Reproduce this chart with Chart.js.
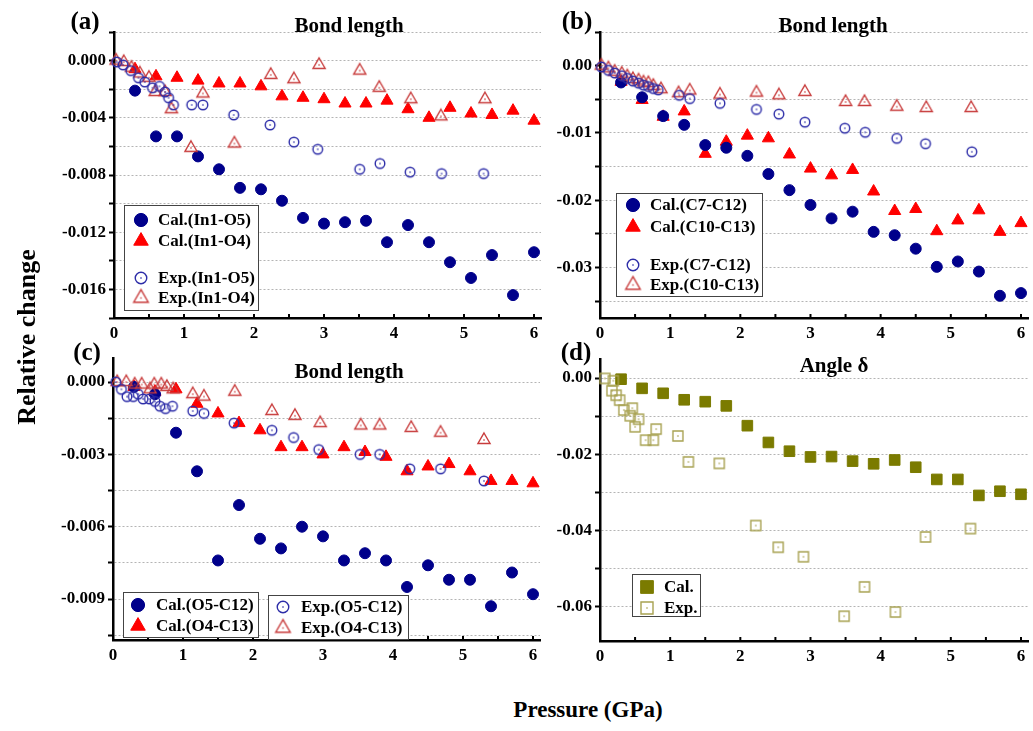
<!DOCTYPE html>
<html>
<head>
<meta charset="utf-8">
<script src="https://cdn.jsdelivr.net/npm/chart.js@4.4.1/dist/chart.umd.min.js"></script>
<style>
  body { margin: 0; background: #fff; }
  #wrap { position: relative; width: 1033px; height: 731px; overflow: hidden; font-family: "Liberation Serif", serif; font-weight: bold; color: #000; }
  canvas { position: absolute; }
  .lbl { position: absolute; white-space: nowrap; transform: translate(-50%, -50%); }
</style>
</head>
<body>
<div id="wrap">
  <canvas id="ca"></canvas>
  <canvas id="cb"></canvas>
  <canvas id="cc"></canvas>
  <canvas id="cd"></canvas>
  <div class="lbl" style="left:85px;top:21px;font-size:25px">(a)</div>
  <div class="lbl" style="left:349px;top:25px;font-size:21px">Bond length</div>
  <div class="lbl" style="left:577px;top:21px;font-size:25px">(b)</div>
  <div class="lbl" style="left:833px;top:25px;font-size:21px">Bond length</div>
  <div class="lbl" style="left:87px;top:352px;font-size:25px">(c)</div>
  <div class="lbl" style="left:349px;top:371px;font-size:21px">Bond length</div>
  <div class="lbl" style="left:576px;top:352px;font-size:25px">(d)</div>
  <div class="lbl" style="left:834px;top:365px;font-size:21px">Angle δ</div>
  <div class="lbl" style="left:27px;top:337px;font-size:26px;transform:translate(-50%,-50%) rotate(-90deg)">Relative change</div>
  <div class="lbl" style="left:588px;top:710px;font-size:23px">Pressure (GPa)</div>
</div>
<script>
// pressure values (GPa)
const pCal = [0.3, 0.6, 0.9, 1.2, 1.5, 1.8, 2.1, 2.4, 2.7, 3.0, 3.3, 3.6, 3.9, 4.2, 4.5, 4.8, 5.1, 5.4, 5.7, 6.0];
const xTicks = [0, 0.5, 1, 1.5, 2, 2.5, 3, 3.5, 4, 4.5, 5, 5.5, 6];
const xLabels = ['0', '', '1', '', '2', '', '3', '', '4', '', '5', '', '6'];

// (a) In1-O5 / In1-O4
const calIn1O5 = [-0.0021, -0.0053, -0.0053, -0.0067, -0.0076, -0.0089, -0.0090, -0.0098, -0.0110, -0.0114, -0.0113, -0.0112, -0.0127, -0.0115, -0.0127, -0.0141, -0.0152, -0.0136, -0.0164, -0.0134];
const calIn1O4 = [-0.0006, -0.0011, -0.0012, -0.0014, -0.0016, -0.0016, -0.0018, -0.0025, -0.0026, -0.0027, -0.0030, -0.0030, -0.0028, -0.0034, -0.0040, -0.0033, -0.0037, -0.0038, -0.0035, -0.0042];
const pExpIn1O5 = [0.04, 0.13, 0.24, 0.35, 0.44, 0.55, 0.65, 0.73, 0.78, 0.85, 1.11, 1.27, 1.71, 2.23, 2.57, 2.91, 3.51, 3.8, 4.23, 4.68, 5.28];
const expIn1O5 = [-0.0001, -0.0003, -0.0007, -0.0012, -0.0015, -0.0019, -0.0018, -0.0022, -0.0026, -0.0031, -0.0031, -0.0031, -0.0038, -0.0045, -0.0057, -0.0062, -0.0076, -0.0072, -0.0078, -0.0079, -0.0079];
const pExpIn1O4 = [0.03, 0.14, 0.25, 0.37, 0.5, 0.59, 0.73, 0.82, 1.1, 1.27, 1.72, 2.24, 2.57, 2.93, 3.51, 3.79, 4.24, 4.67, 5.3];
const expIn1O4 = [0, -0.0001, -0.0005, -0.0009, -0.0012, -0.0022, -0.0022, -0.0034, -0.0061, -0.0023, -0.0058, -0.0010, -0.0013, -0.0003, -0.0007, -0.0019, -0.0027, -0.0039, -0.0027];
const yTicksA = [-0.018, -0.016, -0.014, -0.012, -0.010, -0.008, -0.006, -0.004, -0.002, 0, 0.002];
const yLabelsA = ['', '-0.016', '', '-0.012', '', '-0.008', '', '-0.004', '', '0.000', ''];

// (b) C7-C12 / C10-C13
const calC7C12 = [-0.0025, -0.0047, -0.0075, -0.0088, -0.0118, -0.0122, -0.0134, -0.0161, -0.0185, -0.0207, -0.0227, -0.0217, -0.0247, -0.0252, -0.0272, -0.0299, -0.0291, -0.0306, -0.0342, -0.0338];
const calC10C13 = [-0.0024, -0.0051, -0.0076, -0.0068, -0.0131, -0.0113, -0.0104, -0.0108, -0.0132, -0.0153, -0.0163, -0.0155, -0.0187, -0.0216, -0.0213, -0.0246, -0.0230, -0.0215, -0.0247, -0.0234];
const pExpC7C12 = [0.02, 0.12, 0.21, 0.31, 0.39, 0.47, 0.55, 0.62, 0.69, 0.76, 0.83, 1.13, 1.28, 1.71, 2.23, 2.55, 2.92, 3.49, 3.78, 4.23, 4.64, 5.3];
const expC7C12 = [-0.0002, -0.0007, -0.0011, -0.0015, -0.0019, -0.0023, -0.0026, -0.0029, -0.0031, -0.0034, -0.0036, -0.0044, -0.0049, -0.0056, -0.0065, -0.0072, -0.0084, -0.0093, -0.0099, -0.0108, -0.0116, -0.0128];
const pExpC10C13 = [0.02, 0.12, 0.21, 0.31, 0.39, 0.47, 0.55, 0.62, 0.69, 0.76, 0.87, 1.12, 1.28, 1.71, 2.23, 2.55, 2.92, 3.5, 3.77, 4.23, 4.65, 5.29];
const expC10C13 = [0, -0.0004, -0.0009, -0.0012, -0.0016, -0.0020, -0.0022, -0.0025, -0.0026, -0.0030, -0.0035, -0.0041, -0.0037, -0.0043, -0.0040, -0.0044, -0.0039, -0.0054, -0.0054, -0.0061, -0.0063, -0.0063];
const yTicksB = [-0.035, -0.030, -0.025, -0.020, -0.015, -0.010, -0.005, 0, 0.005];
const yLabelsB = ['', '-0.03', '', '-0.02', '', '-0.01', '', '0.00', ''];

// (c) O5-C12 / O4-C13
const calO5C12 = [-0.0002, -0.0005, -0.0021, -0.0037, -0.0074, -0.0051, -0.0065, -0.0069, -0.0060, -0.0064, -0.0074, -0.0071, -0.0074, -0.0085, -0.0076, -0.0082, -0.0082, -0.0093, -0.0079, -0.0088];
const calO4C13 = [-0.0002, -0.0004, -0.0003, -0.0009, -0.0013, -0.0017, -0.0020, -0.0027, -0.0027, -0.0030, -0.0027, -0.0029, -0.0031, -0.0037, -0.0035, -0.0034, -0.0037, -0.0041, -0.0041, -0.0042];
const pExpO5C12 = [0.04, 0.12, 0.2, 0.29, 0.36, 0.43, 0.52, 0.6, 0.67, 0.75, 0.85, 1.14, 1.3, 1.73, 2.27, 2.58, 2.94, 3.53, 3.81, 4.24, 4.68, 5.3];
const expO5C12 = [0, -0.0003, -0.0006, -0.0006, -0.0005, -0.0007, -0.0007, -0.0008, -0.0010, -0.0011, -0.0010, -0.0012, -0.0013, -0.0017, -0.0020, -0.0023, -0.0028, -0.0030, -0.0030, -0.0036, -0.0036, -0.0041];
const pExpO4C13 = [0.06, 0.19, 0.31, 0.41, 0.53, 0.59, 0.69, 0.77, 0.86, 1.14, 1.3, 1.74, 2.27, 2.6, 2.96, 3.54, 3.81, 4.26, 4.68, 5.3];
const expO4C13 = [0, 0, -0.0001, -0.0001, -0.0003, -0.0001, -0.0001, -0.0002, -0.0003, -0.0005, -0.0006, -0.0004, -0.0012, -0.0014, -0.0017, -0.0018, -0.0018, -0.0019, -0.0021, -0.0024];
const yTicksC = [-0.0105, -0.009, -0.0075, -0.006, -0.0045, -0.003, -0.0015, 0];
const yLabelsC = ['', '-0.009', '', '-0.006', '', '-0.003', '', '0.000'];

// (d) angle delta
const calAngle = [-0.0003, -0.0027, -0.0040, -0.0057, -0.0062, -0.0073, -0.0125, -0.0169, -0.0192, -0.0207, -0.0206, -0.0218, -0.0225, -0.0215, -0.0234, -0.0266, -0.0266, -0.0308, -0.0297, -0.0305];
const pExpAngle = [0.07, 0.19, 0.17, 0.23, 0.28, 0.34, 0.46, 0.43, 0.55, 0.5, 0.8, 0.65, 0.76, 1.11, 1.26, 1.7, 2.22, 2.54, 2.9, 3.48, 3.77, 4.21, 4.64, 5.28];
const expAngle = [-0.0001, -0.0007, -0.0033, -0.0045, -0.0058, -0.0084, -0.0079, -0.0099, -0.0108, -0.0128, -0.0134, -0.0163, -0.0163, -0.0152, -0.0220, -0.0224, -0.0387, -0.0444, -0.0469, -0.0625, -0.0548, -0.0614, -0.0417, -0.0395];
const yTicksD = [-0.06, -0.05, -0.04, -0.03, -0.02, -0.01, 0];
const yLabelsD = ['-0.06', '', '-0.04', '', '-0.02', '', '0.00'];

const NAVY = '#00008b', RED = '#ff0000', OLIVE = '#7b7b00';
const EXP_BLUE = '#2d2da8', EXP_RED = '#c83c3c', EXP_OLIVE = '#a8a252';
const FONT = { family: '"Liberation Serif", serif', weight: 'bold', size: 17 };

// open marker with the little dot in the middle
function openMarker(shape, color, r, scale) {
  const k = scale || 1;
  const s = Math.ceil(2 * r * k + 4);
  const c = document.createElement('canvas');
  c.width = s; c.height = s;
  const g = c.getContext('2d');
  const m = s / 2, rr = r * k;
  g.strokeStyle = color; g.fillStyle = color; g.lineWidth = 1.4;
  g.beginPath();
  if (shape === 'circle') g.arc(m, m, rr, 0, Math.PI * 2);
  else if (shape === 'triangle') { g.moveTo(m, m - rr); g.lineTo(m + rr * 0.866, m + rr / 2); g.lineTo(m - rr * 0.866, m + rr / 2); g.closePath(); }
  else g.rect(m - rr, m - rr, 2 * rr, 2 * rr);
  g.stroke();
  g.fillRect(m - 0.7, m - 0.7, 1.4, 1.4);
  return c;
}
const expCircle = openMarker('circle', EXP_BLUE, 4.8);
const expTri = openMarker('triangle', EXP_RED, 7);
const expSquare = openMarker('rect', EXP_OLIVE, 5);
const legendImg = new Map([
  [expCircle, openMarker('circle', EXP_BLUE, 4.8, 1.2)],
  [expTri, openMarker('triangle', EXP_RED, 7, 1.2)],
  [expSquare, openMarker('rect', EXP_OLIVE, 5, 1.2)]
]);

const pts = (xs, ys) => xs.map((x, i) => ({ x, y: ys[i] }));
function ds(label, xs, ys, style, radius, fill, stroke) {
  return { label, data: pts(xs, ys), pointStyle: style, pointRadius: radius, pointHoverRadius: radius,
    backgroundColor: fill, borderColor: stroke, borderWidth: 1, showLine: false, clip: false };
}
function labelFor(ticks, labels, v) {
  const i = ticks.findIndex(t => Math.abs(t - v) < 1e-9);
  return i < 0 ? '' : labels[i];
}

function drawMarker(ctx, d, x, y) {
  const st = d.pointStyle, r = d.pointRadius * 1.2;
  if (typeof st !== 'string') {
    const im = legendImg.get(st) || st;
    ctx.drawImage(im, x - im.width / 2, y - im.height / 2);
    return;
  }
  ctx.fillStyle = d.backgroundColor; ctx.strokeStyle = d.borderColor; ctx.lineWidth = 1;
  ctx.beginPath();
  if (st === 'circle') ctx.arc(x, y, r, 0, Math.PI * 2);
  else if (st === 'triangle') { ctx.moveTo(x, y - r); ctx.lineTo(x + r * 0.866, y + r / 2); ctx.lineTo(x - r * 0.866, y + r / 2); ctx.closePath(); }
  else { const h = r * Math.SQRT1_2; ctx.rect(x - h, y - h, 2 * h, 2 * h); }
  ctx.fill(); ctx.stroke();
}

// inward x ticks + boxed legends
function decor(boxes, cv) {
  return {
    id: 'decor',
    afterDraw(chart) {
      const ctx = chart.ctx, xs = chart.scales.x, bottom = chart.chartArea.bottom;
      ctx.save();
      ctx.strokeStyle = '#000'; ctx.lineWidth = 2;
      xTicks.forEach(v => {
        if (v <= 0) return;
        const px = xs.getPixelForValue(v);
        ctx.beginPath(); ctx.moveTo(px, bottom); ctx.lineTo(px, bottom - 4); ctx.stroke();
      });
      boxes.forEach(b => {
        const bx = b.x - cv.left, by = b.y - cv.top;
        ctx.fillStyle = '#fff'; ctx.fillRect(bx, by, b.w, b.h);
        ctx.strokeStyle = '#444'; ctx.lineWidth = 1; ctx.strokeRect(bx + 0.5, by + 0.5, b.w, b.h);
        b.items.forEach(it => {
          drawMarker(ctx, it.ds, b.mx - cv.left, it.y - cv.top);
          ctx.fillStyle = '#000';
          ctx.font = 'bold 17px "Liberation Serif"';
          ctx.textBaseline = 'middle';
          ctx.fillText(it.ds.label, b.tx - cv.left, it.y - cv.top + 1);
        });
      });
      ctx.restore();
    }
  };
}

function makePanel(id, cv, area, yr, datasets, boxes) {
  const el = document.getElementById(id);
  el.width = cv.w; el.height = cv.h;
  el.style.left = cv.left + 'px'; el.style.top = cv.top + 'px';
  return new Chart(el, {
    type: 'scatter',
    data: { datasets },
    options: {
      responsive: false, animation: false, devicePixelRatio: 1,
      layout: { autoPadding: false, padding: { left: 0, top: area.t - cv.top, right: cv.left + cv.w - area.r, bottom: 0 } },
      plugins: { legend: { display: false }, tooltip: { enabled: false } },
      scales: {
        x: {
          type: 'linear', min: 0, max: 6.1,
          afterBuildTicks: s => { s.ticks = xTicks.map(v => ({ value: v })); },
          afterFit: s => { s.height = cv.top + cv.h - area.b; s.paddingLeft = 0; s.paddingRight = 0; },
          grid: { drawOnChartArea: false, drawTicks: false },
          border: { color: '#000', width: 2.5 },
          ticks: { autoSkip: false, maxRotation: 0, padding: 5, color: '#000', font: FONT,
            callback: v => labelFor(xTicks, xLabels, v) }
        },
        y: {
          type: 'linear', min: yr.min, max: yr.max,
          afterBuildTicks: s => { s.ticks = yr.ticks.map(v => ({ value: v })); },
          afterFit: s => { s.width = area.l - cv.left; s.paddingTop = 0; s.paddingBottom = 0; },
          grid: { color: '#b4b4b4', lineWidth: 1, tickColor: '#000', tickLength: 5, tickWidth: 2 },
          border: { color: '#000', width: 2.5, dash: [2, 2] },
          ticks: { autoSkip: false, padding: 3, color: '#000', font: FONT,
            callback: v => labelFor(yr.ticks, yr.labels, v) }
        }
      }
    },
    plugins: [decor(boxes, cv)]
  });
}

// (a)
const aCal5 = ds('Cal.(In1-O5)', pCal, calIn1O5, 'circle', 5.5, NAVY, NAVY);
const aCal4 = ds('Cal.(In1-O4)', pCal, calIn1O4, 'triangle', 7, RED, RED);
const aExp5 = ds('Exp.(In1-O5)', pExpIn1O5, expIn1O5, expCircle, 4.8, EXP_BLUE, EXP_BLUE);
const aExp4 = ds('Exp.(In1-O4)', pExpIn1O4, expIn1O4, expTri, 7, EXP_RED, EXP_RED);
makePanel('ca', { left: 0, top: 0, w: 560, h: 345 }, { l: 114, t: 32, r: 541, b: 318 },
  { min: -0.018, max: 0.002, ticks: yTicksA, labels: yLabelsA },
  [aExp5, aExp4, aCal5, aCal4],
  [{ x: 124, y: 205, w: 134, h: 105, mx: 141, tx: 158,
     items: [{ ds: aCal5, y: 220 }, { ds: aCal4, y: 241 }, { ds: aExp5, y: 278 }, { ds: aExp4, y: 298 }] }]);

// (b)
const bCal7 = ds('Cal.(C7-C12)', pCal, calC7C12, 'circle', 5.5, NAVY, NAVY);
const bCal10 = ds('Cal.(C10-C13)', pCal, calC10C13, 'triangle', 7, RED, RED);
const bExp7 = ds('Exp.(C7-C12)', pExpC7C12, expC7C12, expCircle, 4.8, EXP_BLUE, EXP_BLUE);
const bExp10 = ds('Exp.(C10-C13)', pExpC10C13, expC10C13, expTri, 7, EXP_RED, EXP_RED);
makePanel('cb', { left: 540, top: 0, w: 493, h: 345 }, { l: 600, t: 32, r: 1028, b: 318 },
  { min: -0.0375, max: 0.005, ticks: yTicksB, labels: yLabelsB },
  [bExp7, bExp10, bCal7, bCal10],
  [{ x: 616, y: 193, w: 146, h: 103, mx: 633, tx: 650,
     items: [{ ds: bCal7, y: 205 }, { ds: bCal10, y: 227 }, { ds: bExp7, y: 265 }, { ds: bExp10, y: 285 }] }]);

// (c)
const cCal5 = ds('Cal.(O5-C12)', pCal, calO5C12, 'circle', 5.5, NAVY, NAVY);
const cCal4 = ds('Cal.(O4-C13)', pCal, calO4C13, 'triangle', 7, RED, RED);
const cExp5 = ds('Exp.(O5-C12)', pExpO5C12, expO5C12, expCircle, 4.8, EXP_BLUE, EXP_BLUE);
const cExp4 = ds('Exp.(O4-C13)', pExpO4C13, expO4C13, expTri, 7, EXP_RED, EXP_RED);
makePanel('cc', { left: 0, top: 345, w: 560, h: 340 }, { l: 113, t: 358, r: 540, b: 640 },
  { min: -0.0107, max: 0.001, ticks: yTicksC, labels: yLabelsC },
  [cExp5, cExp4, cCal5, cCal4],
  [{ x: 123, y: 592, w: 135, h: 45, mx: 138, tx: 156, items: [{ ds: cCal5, y: 605 }, { ds: cCal4, y: 626 }] },
   { x: 268, y: 595, w: 140, h: 44, mx: 283, tx: 301, items: [{ ds: cExp5, y: 607 }, { ds: cExp4, y: 628 }] }]);

// (d)
const dCal = ds('Cal.', pCal, calAngle, 'rect', 7.5, OLIVE, OLIVE);
const dExp = ds('Exp.', pExpAngle, expAngle, expSquare, 5, EXP_OLIVE, EXP_OLIVE);
makePanel('cd', { left: 540, top: 345, w: 493, h: 340 }, { l: 600, t: 359, r: 1028, b: 641 },
  { min: -0.069, max: 0.005, ticks: yTicksD, labels: yLabelsD },
  [dExp, dCal],
  [{ x: 632, y: 574, w: 68, h: 42, mx: 647, tx: 664, items: [{ ds: dCal, y: 587 }, { ds: dExp, y: 608 }] }]);
</script>
</body>
</html>
